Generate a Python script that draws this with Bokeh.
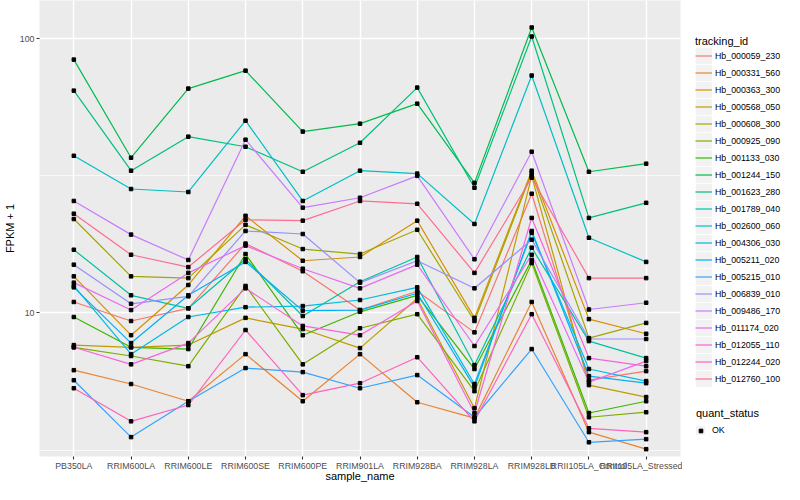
from bokeh.plotting import figure
from bokeh.models import FactorRange, Range1d, FixedTicker, PrintfTickFormatter, Legend, LegendItem
from bokeh.layouts import row
from bokeh.embed import file_html
from bokeh.resources import INLINE

samples = ["PB350LA", "RRIM600LA", "RRIM600LE", "RRIM600SE", "RRIM600PE", "RRIM901LA",
           "RRIM928BA", "RRIM928LA", "RRIM928LB", "RRII105LA_Control", "RRII105LA_Stressed"]

tracking_ids = ["Hb_000059_230", "Hb_000331_560", "Hb_000363_300", "Hb_000568_050", "Hb_000608_300",
                "Hb_000925_090", "Hb_001133_030", "Hb_001244_150", "Hb_001623_280", "Hb_001789_040",
                "Hb_002600_060", "Hb_004306_030", "Hb_005211_020", "Hb_005215_010", "Hb_006839_010",
                "Hb_009486_170", "Hb_011174_020", "Hb_012055_110", "Hb_012244_020", "Hb_012760_100"]

colors = ["#F8766D", "#EA8331", "#D89000", "#C09B00", "#A3A500", "#7CAE00", "#39B600", "#00BB4E",
          "#00BF7D", "#00C1A3", "#00BFC4", "#00BAE0", "#00B0F6", "#35A2FF", "#9590FF", "#C77CFF",
          "#E76BF3", "#FA62DB", "#FF62BC", "#FF6C91"]

hb_000059_230 = [10.97, 9.35, 10.4, 17.9, 14.2, 10.25, 12.0, 8.5, 27.2, 5.69, 6.14]
hb_000331_560 = [6.19, 5.51, 4.77, 7.08, 4.77, 7.08, 4.73, 4.14, 10.97, 3.68, 3.19]
hb_000363_300 = [13.6, 8.3, 12.65, 22.6, 15.5, 16.0, 21.7, 9.6, 33.0, 9.5, 8.4]
hb_000568_050 = [7.64, 7.5, 7.64, 9.6, 8.74, 7.45, 11.3, 4.5, 31.6, 5.46, 4.94]
hb_000608_300 = [22.0, 13.6, 13.4, 20.95, 17.1, 16.4, 20.1, 9.35, 32.4, 8.1, 9.2]
hb_000925_090 = [7.5, 6.97, 6.4, 12.55, 6.5, 8.8, 9.9, 5.19, 15.2, 4.17, 4.35]
hb_001133_030 = [9.67, 7.5, 7.39, 16.4, 8.3, 10.1, 11.6, 6.25, 15.6, 4.32, 4.77]
hb_001244_150 = [83.8, 36.8, 65.7, 76.4, 45.8, 48.96, 57.9, 29.8, 109.7, 32.7, 35.0]
hb_001623_280 = [64.6, 33.0, 43.9, 40.35, 32.7, 41.7, 66.25, 28.6, 101.7, 22.2, 25.2]
hb_001789_040 = [17.0, 11.6, 10.4, 15.7, 9.75, 13.0, 16.0, 6.46, 17.3, 7.9, 6.85]
hb_002600_060 = [37.4, 28.3, 27.6, 50.2, 25.6, 33.0, 32.2, 21.1, 73.3, 18.8, 15.35]
hb_004306_030 = [12.55, 7.08, 9.67, 10.5, 10.6, 11.15, 12.4, 5.51, 19.6, 6.25, 5.65]
hb_005211_020 = [12.4, 7.77, 11.6, 15.35, 10.2, 10.25, 11.8, 5.37, 19.9, 5.89, 5.55]
hb_005215_010 = [5.69, 3.53, 4.77, 6.3, 6.09, 5.32, 5.94, 4.17, 7.39, 3.38, 3.47]
hb_006839_010 = [15.0, 10.8, 11.5, 19.9, 19.4, 12.9, 15.5, 12.3, 18.5, 8.04, 8.04]
hb_009486_170 = [25.6, 19.3, 15.6, 42.8, 24.2, 26.3, 31.6, 15.7, 38.7, 10.3, 10.9]
hb_011174_020 = [12.9, 10.25, 14.0, 17.6, 14.5, 12.3, 15.0, 7.58, 16.3, 5.6, 6.68]
hb_012055_110 = [7.5, 6.5, 7.77, 12.3, 8.97, 8.3, 11.06, 4.32, 22.2, 6.85, 6.4]
hb_012244_020 = [5.32, 4.03, 4.62, 8.67, 5.02, 5.55, 6.9, 4.03, 9.9, 3.8, 3.68]
hb_012760_100 = [23.0, 16.3, 14.7, 21.85, 21.7, 25.6, 25.0, 14.0, 31.1, 13.4, 13.4]

series = [hb_000059_230, hb_000331_560, hb_000363_300, hb_000568_050, hb_000608_300,
          hb_000925_090, hb_001133_030, hb_001244_150, hb_001623_280, hb_001789_040,
          hb_002600_060, hb_004306_030, hb_005211_020, hb_005215_010, hb_006839_010,
          hb_009486_170, hb_011174_020, hb_012055_110, hb_012244_020, hb_012760_100]

quant_status = ["OK"]

y_ticks = [10, 100]
y_minor_ticks = [3.1623, 31.623]

FONT = "Liberation Sans"

p = figure(width=682, height=484, title=None,
           x_range=FactorRange(factors=samples, range_padding=0.1, range_padding_units="absolute"),
           y_range=Range1d(3.0, 137.6), y_axis_type="log",
           output_backend="svg", toolbar_location=None,
           min_border_left=32, min_border_right=2, min_border_top=0, min_border_bottom=0)

p.background_fill_color = "#EBEBEB"
p.border_fill_color = "white"
p.outline_line_color = None

p.xgrid.grid_line_color = "white"
p.xgrid.grid_line_width = 1.4
p.ygrid.grid_line_color = "white"
p.ygrid.grid_line_width = 1.4
p.ygrid.minor_grid_line_color = "white"
p.ygrid.minor_grid_line_width = 0.7

p.yaxis.ticker = FixedTicker(ticks=y_ticks, minor_ticks=y_minor_ticks)
p.yaxis.formatter = PrintfTickFormatter(format="%d")

for ax in (p.xaxis, p.yaxis):
    ax.axis_line_color = None
    ax.minor_tick_line_color = None
    ax.major_tick_in = 0
    ax.major_tick_out = 3
    ax.major_tick_line_color = "#333333"
    ax.major_tick_line_width = 1.1
    ax.major_label_text_font = FONT
    ax.major_label_text_font_size = "8.8px"
    ax.major_label_text_color = "#4D4D4D"
    ax.major_label_text_line_height = 1.0
    ax.major_label_standoff = 1
    ax.axis_label_text_font = FONT
    ax.axis_label_text_font_size = "11px"
    ax.axis_label_text_font_style = "normal"
    ax.axis_label_text_color = "black"
    ax.axis_label_text_line_height = 1.0
    ax.axis_label_standoff = 1
p.xaxis.axis_label_standoff = -4

p.xaxis.axis_label = "sample_name"
p.yaxis.axis_label = "FPKM + 1"

for vals, col in zip(series, colors):
    p.line(x=samples, y=vals, line_color=col, line_width=1.2)

pt_x = [s for vals in series for s in samples]
pt_y = [v for vals in series for v in vals]
p.scatter(x=pt_x, y=pt_y, marker="square", size=3.5, color="black")

# legend panel (key glyphs sit outside the visible range; only their legend swatches show)
lg = figure(width=102, height=484, title=None, x_range=Range1d(0, 1), y_range=Range1d(0, 1),
            output_backend="svg", toolbar_location=None,
            x_axis_location=None, y_axis_location=None,
            min_border_left=0, min_border_right=0, min_border_top=0, min_border_bottom=0)
lg.grid.visible = False
lg.outline_line_color = None
lg.background_fill_color = "white"
lg.border_fill_color = "white"

off = [10, 11]
key_bg = lg.quad(left=[10], right=[11], top=[11], bottom=[10], fill_color="#F2F2F2",
                 line_color="#F2F2F2", line_width=3)
key_bg2 = lg.quad(left=[10], right=[11], top=[11], bottom=[10], fill_color="#F2F2F2",
                  line_color="#F2F2F2", line_width=9.4)
key_lines = [lg.line(x=off, y=off, line_color=col, line_width=1.2) for col in colors]
key_pt = lg.scatter(x=[10], y=[10], marker="square", color="black")

legend1 = Legend(items=[LegendItem(label=t, renderers=[key_bg, r]) for t, r in zip(tracking_ids, key_lines)],
                 title="tracking_id", location=(13, 69), orientation="vertical",
                 glyph_width=17, glyph_height=17, label_height=17, spacing=0, padding=0, margin=0,
                 label_standoff=3, border_line_color=None, background_fill_alpha=0,
                 title_standoff=0, label_text_font=FONT, label_text_font_size="8.8px",
                 label_text_color="black", title_text_font=FONT, title_text_font_size="11px",
                 title_text_font_style="normal", title_text_color="black")
legend2 = Legend(items=[LegendItem(label=q, renderers=[key_bg2, key_pt]) for q in quant_status],
                 title="quant_status", location=(14, 21), orientation="vertical",
                 glyph_width=9, glyph_height=9, label_height=9, spacing=0, padding=0, margin=0,
                 label_standoff=7, border_line_color=None, background_fill_alpha=0,
                 title_standoff=6, label_text_font=FONT, label_text_font_size="8.8px",
                 label_text_color="black", title_text_font=FONT, title_text_font_size="11px",
                 title_text_font_style="normal", title_text_color="black")
lg.add_layout(legend1, "center")
lg.add_layout(legend2, "center")

layout = row(p, lg)
open("out.html", "w").write(file_html(layout, INLINE))
